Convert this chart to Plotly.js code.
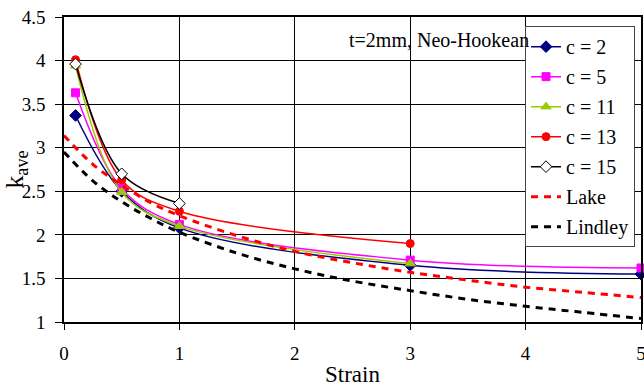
<!DOCTYPE html>
<html>
<head>
<meta charset="utf-8">
<script src="https://cdn.plot.ly/plotly-3.0.1.min.js"></script>
<style>html,body{margin:0;padding:0;background:#fff;}#chart{width:644px;height:392px;}
#chart svg text{font-family:'Liberation Serif' !important;}</style>
</head>
<body>
<div id="chart"></div>
<script>
// FE strains and k_ave values
const strainFE = [0.1, 0.5, 1, 3, 5];
const c2 = [3.37, 2.50, 2.08, 1.65, 1.55];
const c5 = [3.63, 2.53, 2.12, 1.71, 1.62];
const strainC11 = [0.1, 0.5, 1, 3];
const c11 = [3.94, 2.49, 2.10, 1.67];
const strainC13 = [0.1, 0.5, 1, 3];
const c13 = [4.01, 2.63, 2.27, 1.90];
const strainC15 = [0.1, 0.5, 1];
const c15 = [3.96, 2.70, 2.36];
// analytical curves
const strainTheory = [0, 0.25, 0.5, 0.75, 1, 1.5, 2, 2.5, 3, 3.5, 4, 4.5, 5];
const lake = [3.14, 2.81, 2.57, 2.37, 2.22, 1.99, 1.81, 1.68, 1.57, 1.48, 1.40, 1.34, 1.28];
const lindley = [2.95, 2.62, 2.38, 2.19, 2.03, 1.79, 1.61, 1.47, 1.36, 1.26, 1.18, 1.11, 1.04];
const names = ['c = 2', 'c = 5', 'c = 11', 'c = 13', 'c = 15', 'Lake', 'Lindley'];
const xTicks = [0, 1, 2, 3, 4, 5];
const yTicks = [1, 1.5, 2, 2.5, 3, 3.5, 4, 4.5];

const serif = 'Liberation Serif';
function fe(x, y, name, color, symbol, size, fill) {
  return {
    x: x, y: y, name: name, type: 'scatter', mode: 'lines+markers',
    line: {color: color, width: 1.5, shape: 'spline', smoothing: 1},
    marker: {symbol: symbol, size: size, color: fill || color, line: {color: color, width: 1}},
    cliponaxis: false, legendgroup: name
  };
}
const traces = [
  fe(strainFE, c2, names[0], '#000080', 'diamond', 9),
  fe(strainFE, c5, names[1], '#FF00FF', 'square', 8),
  fe(strainC11, c11, names[2], '#99CC00', 'triangle-up', 9),
  fe(strainC13, c13, names[3], '#FF0000', 'circle', 8),
  fe(strainC15, c15, names[4], '#000000', 'diamond', 9, '#FFFFFF'),
  {x: strainTheory, y: lake, name: names[5], type: 'scatter', mode: 'lines',
   line: {color: '#FF0000', width: 3, dash: '7px,6px', shape: 'spline', smoothing: 1}, legendgroup: names[5]},
  {x: strainTheory, y: lindley, name: names[6], type: 'scatter', mode: 'lines',
   line: {color: '#000000', width: 3, dash: '7px,6px', shape: 'spline', smoothing: 1}, legendgroup: names[6]}
];

const layout = {
  width: 644, height: 392,
  margin: {l: 64, r: 3, t: 17, b: 70},
  paper_bgcolor: '#fff', plot_bgcolor: '#fff',
  font: {family: serif, size: 19, color: '#000'},
  showlegend: true,
  legend: {x: 0.799, y: 0.97, xanchor: 'left', yanchor: 'top',
    bgcolor: '#fff', bordercolor: '#444', borderwidth: 1,
    font: {family: serif, size: 20, color: '#000'}, tracegroupgap: 1, itemwidth: 30},
  xaxis: {range: [0, 5], tickvals: xTicks, ticktext: xTicks.map(String),
    showgrid: true, gridcolor: '#000', gridwidth: 1, zeroline: false,
    showline: true, linecolor: '#000', linewidth: 1.5, mirror: true,
    ticks: 'outside', ticklen: 6, tickcolor: '#000', ticklabeloverflow: 'allow',
    tickfont: {family: serif, size: 19, color: '#000'}, ticklabelstandoff: 7,
    title: {text: 'Strain', font: {family: serif, size: 23, color: '#000'}, standoff: 3}},
  yaxis: {range: [1, 4.5], tickvals: yTicks, ticktext: yTicks.map(String),
    showgrid: true, gridcolor: '#000', gridwidth: 1, zeroline: false,
    showline: true, linecolor: '#000', linewidth: 1.5, mirror: true,
    ticks: 'outside', ticklen: 7, tickcolor: '#000', ticklabeloverflow: 'allow',
    tickfont: {family: serif, size: 19, color: '#000'}, ticklabelstandoff: 6,
    title: {text: 'k<sub>ave</sub>', font: {family: serif, size: 26, color: '#000'}, standoff: 0}},
  annotations: [{xref: 'paper', yref: 'paper', x: (531 - 64) / 577, y: (322 - 40) / 305,
    xanchor: 'right', yanchor: 'middle', showarrow: false,
    text: 't=2mm, Neo-Hookean', font: {family: serif, size: 20, color: '#000'}}]
};
Plotly.newPlot('chart', traces, layout, {displayModeBar: false});
</script>
</body>
</html>
